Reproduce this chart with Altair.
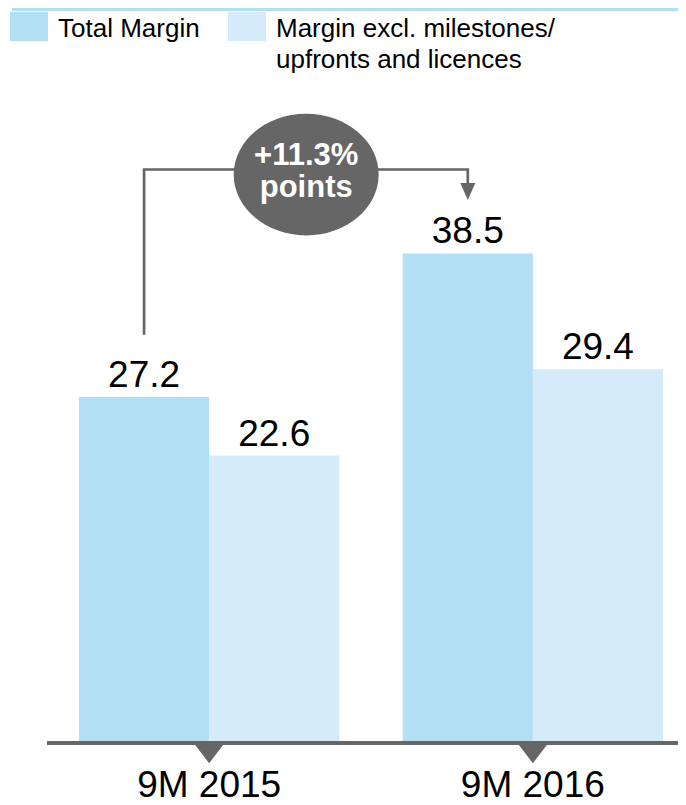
import altair as alt
import pandas as pd

# ---- data ----
periods = ["9M 2015", "9M 2016"]
series = ["Total Margin", "Margin excl. milestones/ upfronts and licences"]
total_margin = [27.2, 38.5]
margin_excl = [22.6, 29.4]
series_colors = ["#b3dff4", "#d5ebf9"]

change_text = ["+11.3%", "points"]
# connector from 9M 2015 total bar to 9M 2016 total bar (value levels)
bracket_period = ["9M 2015", "9M 2015", "9M 2016", "9M 2016"]
bracket_level = [32.1, 45.1, 45.1, 43.6]
arrow_level = [42.7]
bubble_level = [44.7]

rows = []
for i, p in enumerate(periods):
    rows.append({"period": p, "series": series[0], "value": total_margin[i]})
    rows.append({"period": p, "series": series[1], "value": margin_excl[i]})
bars_df = pd.DataFrame(rows)

bracket_df = pd.DataFrame({
    "period": bracket_period,
    "series": [series[0]] * 4,
    "value": bracket_level,
    "order": list(range(4)),
})
arrow_df = pd.DataFrame({"period": [periods[1]], "series": [series[0]], "value": arrow_level})
bubble_df = pd.DataFrame({"period": [periods[0]], "series": [series[1]], "value": bubble_level})
tri_df = pd.DataFrame({"period": periods})
legend_df = pd.DataFrame({"series": series})

FONT = "Liberation Sans"
GRAY = "#666666"

x_enc = alt.X(
    "period:N",
    sort=periods,
    scale=alt.Scale(range=[71, 655], paddingInner=0.196, paddingOuter=0),
    axis=alt.Axis(
        title=None, domain=False, ticks=False, tickSize=0, labelAngle=0,
        labelFontSize=37, labelFont=FONT, labelColor="#000000",
        labelBaseline="alphabetic", labelPadding=53,
    ),
)
xoff_enc = alt.XOffset("series:N", sort=series, scale=alt.Scale(paddingInner=0, paddingOuter=0))
y_scale = alt.Scale(domain=[0, 57.8], nice=False, zero=True)
y_enc = alt.Y("value:Q", scale=y_scale, axis=None)
color_enc = alt.Color(
    "series:N", sort=series,
    scale=alt.Scale(domain=series, range=series_colors), legend=None,
)

bars = alt.Chart(bars_df).mark_bar().encode(
    x=x_enc, xOffset=xoff_enc, y=y_enc, color=color_enc,
)

labels = alt.Chart(bars_df).mark_text(
    dy=-10, fontSize=37, font=FONT, color="#000000", baseline="alphabetic"
).encode(
    x=x_enc, xOffset=xoff_enc, y=y_enc, text=alt.Text("value:Q", format=".1f")
)

# ---- legend (swatches + labels) ----
legend_x = [2, 220]          # swatch left edges
legend_layers = []
for i, s in enumerate(series):
    lines = s.replace("/ ", "/\n").split("\n")
    sw = alt.Chart(legend_df).transform_filter(alt.datum.series == s).mark_rect().encode(
        x=alt.value(legend_x[i]), x2=alt.value(legend_x[i] + 38),
        y=alt.value(4), y2=alt.value(33), color=color_enc,
    )
    tx = alt.Chart(legend_df).transform_filter(alt.datum.series == s).mark_text(
        text=lines, align="left", baseline="alphabetic", fontSize=26, font=FONT,
        color="#000000", lineHeight=31,
    ).encode(x=alt.value(legend_x[i] + 48), y=alt.value(29))
    legend_layers += [sw, tx]

top_band = alt.Chart(tri_df).mark_rule(color="#b3dff4", strokeWidth=3).encode(
    x=alt.value(4), x2=alt.value(670), y=alt.value(1.5)
)

baseline = alt.Chart(tri_df).mark_rule(color=GRAY, strokeWidth=4).encode(
    x=alt.value(39), x2=alt.value(670), y=alt.datum(0)
)

triangles = alt.Chart(tri_df).mark_point(
    shape="M-1,0L1,0L0,1.3Z", size=961, filled=True, color=GRAY, opacity=1, strokeWidth=0
).encode(x=x_enc, y=alt.datum(0))

bracket = alt.Chart(bracket_df).mark_line(color=GRAY, strokeWidth=2.7).encode(
    x=x_enc, xOffset=xoff_enc, y=y_enc, order="order:Q"
)

arrow = alt.Chart(arrow_df).mark_point(
    shape="M-1,-2.27L1,-2.27L0,0Z", size=225, filled=True, color=GRAY, opacity=1, strokeWidth=0
).encode(x=x_enc, xOffset=xoff_enc, y=y_enc)

# ellipse bubble, drawn shifted right of its anchor (midway between the two total bars)
ry = 0.84
k = 0.5523
sx = 0.441
ellipse_path = (
    f"M{-1+sx:.3f},0"
    f"C{-1+sx:.3f},{-ry*k:.3f},{-k+sx:.3f},{-ry:.3f},{sx:.3f},{-ry:.3f}"
    f"C{k+sx:.3f},{-ry:.3f},{1+sx:.3f},{-ry*k:.3f},{1+sx:.3f},0"
    f"C{1+sx:.3f},{ry*k:.3f},{k+sx:.3f},{ry:.3f},{sx:.3f},{ry:.3f}"
    f"C{-k+sx:.3f},{ry:.3f},{-1+sx:.3f},{ry*k:.3f},{-1+sx:.3f},0Z"
)
bubble = alt.Chart(bubble_df).mark_point(
    shape=ellipse_path, size=21025, filled=True, color=GRAY, opacity=1, strokeWidth=0
).encode(x=x_enc, xOffset=xoff_enc, y=y_enc)

bubble_text = alt.Chart(bubble_df).mark_text(
    text=change_text, fontSize=31, fontWeight="bold", font=FONT, color="#ffffff",
    align="center", baseline="alphabetic", lineHeight=32, dx=32, dy=-9.6
).encode(x=x_enc, xOffset=xoff_enc, y=y_enc)

chart = alt.layer(
    top_band, bars, labels, bracket, arrow, bubble, bubble_text, baseline, triangles,
    *legend_layers
).properties(
    width=670, height=735,
    autosize=alt.AutoSizeParams(type="none"),
    padding={"left": 0, "right": 0, "top": 0, "bottom": 62},
).configure(font=FONT).configure_view(stroke=None)

chart.save("out.html", embed_options={"renderer": "svg", "actions": False})
